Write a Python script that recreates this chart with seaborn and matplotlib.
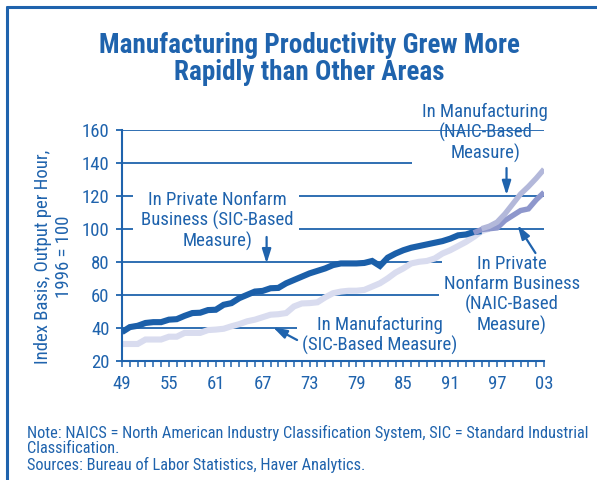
import matplotlib
matplotlib.use("Agg")
import matplotlib.pyplot as plt
from matplotlib import font_manager as fm
from matplotlib.lines import Line2D
import pandas as pd
import seaborn as sns

# ---- data: productivity index, output per hour (1996 = 100) ----
years_nonfarm_sic = list(range(1949, 1996))
nonfarm_sic = [37.5, 40.5, 41.3, 43, 43.5, 43.5, 45, 45.3, 47.3, 49,
               49.2, 50.8, 51, 54, 55, 58, 60, 62, 62.4, 64,
               64.2, 67, 69, 71, 73, 74.5, 76, 78, 79, 79,
               79, 79.3, 80.5, 77.5, 82.5, 85, 87, 88.5, 89.5, 90.5,
               91.5, 92.5, 94, 96, 96.5, 98, 98.5]

years_manuf_sic = list(range(1949, 1997))
manuf_sic = [30.3, 30.3, 30.3, 33, 33, 33, 34.7, 34.7, 37, 37,
             37, 38.7, 39, 39.5, 41, 42.3, 44, 45, 46.5, 48,
             48.3, 49, 53, 54.8, 55, 55.5, 58.5, 61, 62, 62.5,
             62.5, 63, 65, 67, 70, 73.5, 76, 79, 80, 80.5,
             82, 85, 87, 89.5, 92, 95, 98.5, 100]

years_nonfarm_naics = list(range(1994, 2004))
nonfarm_naics = [97.5, 99.5, 100, 100.5, 105, 108, 111, 112, 117.5, 122]

years_manuf_naics = list(range(1995, 2004))
manuf_naics = [100, 101.5, 104, 109, 115, 121, 125.5, 130.5, 136]

tick_years = [1949, 1955, 1961, 1967, 1973, 1979, 1985, 1991, 1997, 2003]
tick_labels = ["49", "55", "61", "67", "73", "79", "85", "91", "97", "03"]
y_ticks = [20, 40, 60, 80, 100, 120, 140, 160]

# ---- style: prefer a condensed sans face, else a plain Arial-metric one ----
sns.set_theme(style="white")
available = {f.name for f in fm.fontManager.ttflist}
condensed_names = {f.name for f in fm.fontManager.ttflist
                   if f.stretch in ("condensed", "semi-condensed", "extra-condensed")}
stretch = "normal"
if "Liberation Sans Narrow" in available:
    face, k = "Liberation Sans Narrow", 1.0
elif "Roboto Condensed" in available:
    face, k = "Roboto Condensed", 1.0
elif "Noto Sans" in condensed_names:
    face, k, stretch = "Noto Sans", 1.0, "condensed"
else:
    face, k = "Liberation Sans", 0.84
plt.rcParams["font.family"] = [face, "DejaVu Sans"]
plt.rcParams["font.stretch"] = stretch

BLUE = "#1f63ad"
DARK = "#1b5fa9"
LAVENDER = "#d9dcef"
GREY_PURPLE = "#b3b8da"
MID_PURPLE = "#8e97cc"

fig = plt.figure(figsize=(5.97, 4.8), dpi=100)
ax = fig.add_axes([0.2044, 0.2479, 0.7069, 0.4823])

# horizontal rules, broken where the callouts sit
rules = [
    (40, 1949, 1971.4),
    (60, 1949, 1989.6),
    (80, 1949, 1989.9),
    (100, 1949, 1950.4), (100, 1971.6, 2003),
    (120, 1949, 1950.4), (120, 1971.6, 2003),
    (140, 1949, 1986.1),
    (160, 1949, 2003),
]
for yv, x0, x1 in rules:
    ax.hlines(yv, x0, x1, color=BLUE, lw=1.3, zorder=1)

def draw(years, values, color, lw, z):
    df = pd.DataFrame({"year": years, "value": values})
    sns.lineplot(data=df, x="year", y="value", color=color, lw=lw, ax=ax,
                 zorder=z, solid_capstyle="butt", solid_joinstyle="miter")

draw(years_manuf_sic, manuf_sic, LAVENDER, 4.4, 2)
draw(years_nonfarm_sic, nonfarm_sic, DARK, 4.4, 3)
draw(years_nonfarm_naics, nonfarm_naics, MID_PURPLE, 3.9, 4)
draw(years_manuf_naics, manuf_naics, GREY_PURPLE, 3.9, 5)

ax.set_xlim(1949, 2003)
ax.set_ylim(20, 160)
ax.set_xticks(tick_years)
ax.set_xticklabels(tick_labels)
ax.set_xticks(range(1949, 2004), minor=True)
ax.set_yticks(y_ticks)
ax.set_xlabel("")
ax.set_ylabel("Index Basis, Output per Hour,\n1996 = 100", color=BLUE,
              fontsize=13.5 * k, linespacing=1.25)
ax.yaxis.set_label_coords(-0.115, 0.45)

for side in ["top", "right"]:
    ax.spines[side].set_visible(False)
for side in ["left", "bottom"]:
    ax.spines[side].set_color(BLUE)
    ax.spines[side].set_linewidth(1.5)

ax.tick_params(axis="x", which="both", direction="out", length=4, width=1.1,
               color=BLUE, labelcolor=BLUE, labelsize=13.5 * k, pad=6, bottom=True)
ax.tick_params(axis="y", which="major", direction="out", length=4, width=1.3,
               color=BLUE, labelcolor=BLUE, labelsize=13.5 * k, pad=5, left=True)

# ---- callouts ----
txt = dict(color=BLUE, fontsize=13.5 * k, ha="center", va="center", linespacing=1.12)
arrow = dict(arrowstyle="-|>,head_length=0.7,head_width=0.22", color=BLUE, lw=1.6,
             shrinkA=0, shrinkB=0)

ax.text(1961.2, 104.6, "In Private Nonfarm\nBusiness (SIC-Based\nMeasure)", **txt)
ax.annotate("", xy=(1967.5, 79), xytext=(1967.5, 95), arrowprops=arrow)

ax.text(1995.5, 157.8, "In Manufacturing\n(NAIC-Based\nMeasure)", **txt)
ax.annotate("", xy=(1998.2, 120.3), xytext=(1998.2, 136.7), arrowprops=arrow)

ax.text(1998.9, 59.9, "In Private\nNonfarm Business\n(NAIC-Based\nMeasure)", **txt)
ax.annotate("", xy=(1999.6, 102.2), xytext=(2001.9, 85.3), arrowprops=arrow)

ax.text(1982.0, 35.4, "In Manufacturing\n(SIC-Based Measure)", **txt)
ax.annotate("", xy=(1968.3, 40.5), xytext=(1971.4, 32.7), arrowprops=arrow)

for t in ax.texts:
    t.set_clip_on(False)

# ---- title, notes and frame ----
fig.text(0.518, 0.878, "Manufacturing Productivity Grew More\nRapidly than Other Areas",
         ha="center", va="center", color=BLUE, fontsize=19.5 * k, fontweight="bold",
         linespacing=1.0)
fig.text(0.045, 0.065,
         "Note: NAICS = North American Industry Classification System, SIC = Standard Industrial\n"
         "Classification.\nSources: Bureau of Labor Statistics, Haver Analytics.",
         ha="left", va="center", color=BLUE, fontsize=11.8 * k, linespacing=1.05)

fig.add_artist(Line2D([0.012, 1.0], [0.985, 0.985], color=BLUE, lw=2.2,
                      transform=fig.transFigure))
fig.add_artist(Line2D([0.012, 0.012], [0.0, 0.985], color=BLUE, lw=2.2,
                      transform=fig.transFigure))

fig.savefig("out.png", dpi=100)
